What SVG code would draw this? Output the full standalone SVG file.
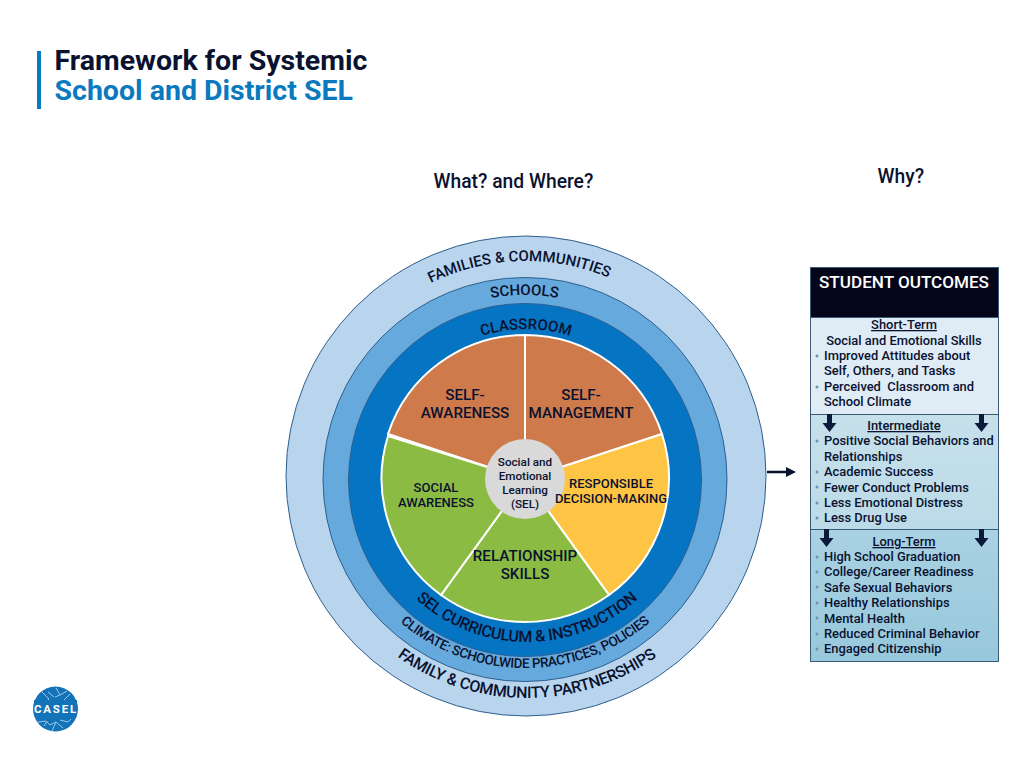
<svg xmlns="http://www.w3.org/2000/svg" width="1024" height="768" viewBox="0 0 1024 768">
<style>
text{font-family:Roboto,"Liberation Sans",sans-serif;fill:#0a1230}
.ttl{font-size:28.500px;font-weight:700}
.q{font-size:19.300px;font-weight:500}
.ring{stroke:#2f5f8e;stroke-width:1}
.seg{stroke:#fff;stroke-width:2}
.c{text-anchor:middle}
.lb{font-size:15.200px;font-weight:500}
.sm{font-size:13px;font-weight:500}
.arc{font-weight:500}
.o{font-size:12.900px;font-weight:500;fill:#0b1c3c}
.h{text-decoration:underline}
.dot{fill:#6f93ad}
.bd{stroke:#3b5a75;stroke-width:1}
.dn{stroke:#0a1a3a;stroke-width:5;fill:none;marker-end:url(#hd)}
</style>
<defs>
<linearGradient id="g3" x1="0" y1="0" x2="0" y2="1"><stop offset="0" stop-color="#a9d2e3"/><stop offset="1" stop-color="#98c8dc"/></linearGradient>
<linearGradient id="g2" x1="0" y1="0" x2="0" y2="1"><stop offset="0" stop-color="#c6e0ea"/><stop offset="1" stop-color="#bcdbe8"/></linearGradient>
<marker id="hd" markerUnits="userSpaceOnUse" markerWidth="12" markerHeight="16" refX="1" refY="8" orient="auto"><path d="M0 1L9 8L0 15Z" fill="#0a1a3a"/></marker>
<marker id="hr" markerUnits="userSpaceOnUse" markerWidth="12" markerHeight="12" refX="2" refY="6" orient="auto"><path d="M0 1L10 6L0 11Z" fill="#0a1230"/></marker>
<path id="p1" d="M405 298A215 215 0 0 1 635 291"/>
<path id="p2" d="M371 380A181 181 0 0 1 678 380"/>
<path id="p3" d="M398 401A150 150 0 0 1 654 401"/>
<path id="p4" d="M363 478A164 164 0 0 0 691 478"/>
<path id="p5" d="M332 475A193 193 0 0 0 718 475"/>
<path id="p6" d="M303 474A224 224 0 0 0 751 474"/>
</defs>
<g id="title">
<rect x="37" y="51" width="4" height="58" fill="#0a7abf"/>
<text class="ttl" x="54.500" y="69.500">Framework for Systemic</text>
<text class="ttl" x="54.500" y="99.500" style="fill:#0a7abf">School and District SEL</text>
</g>
<text class="q" x="433.500" y="187.500">What? and Where?</text>
<text class="q" x="877.500" y="182.500">Why?</text>
<g id="rings">
<circle class="ring" cx="526" cy="476" r="240" fill="#b9d5ee"/>
<circle class="ring" cx="525" cy="479.500" r="202" fill="#66a9dc"/>
<circle class="ring" cx="525" cy="480" r="176.500" fill="#0574c2"/>
</g>
<g id="sectors">
<path id="self-awareness" class="seg" fill="#cf7a4b" d="M525 479L525 335A144 144 0 0 0 388 434Z"/>
<path id="self-management" class="seg" fill="#cf7a4b" d="M525 479L525 335A144 144 0 0 1 662 434Z"/>
<path id="responsible" class="seg" fill="#fec544" d="M525 479L662 434A144 144 0 0 1 609 595Z"/>
<path id="relationship" class="seg" fill="#8bbb42" d="M525 479L609 595A144 144 0 0 1 441 595Z"/>
<path id="social" class="seg" fill="#8bbb42" d="M525 479L441 595A144 144 0 0 1 388 436Z"/>
<circle id="sel-hub" cx="525" cy="479" r="40" fill="#d9d9d9"/>
</g>
<g id="sector-labels">
<g class="lb c"><text x="465" y="400">SELF-</text><text x="465" y="418">AWARENESS</text></g>
<g class="lb c"><text x="581" y="400">SELF-</text><text x="581" y="418">MANAGEMENT</text></g>
<g class="sm c"><text x="436" y="492">SOCIAL</text><text x="436" y="507">AWARENESS</text></g>
<g class="sm c"><text x="611" y="488">RESPONSIBLE</text><text x="611" y="503">DECISION-MAKING</text></g>
<g class="lb c"><text x="525" y="561">RELATIONSHIP</text><text x="525" y="579">SKILLS</text></g>
<g class="c" style="font-size:11.700px;font-weight:500"><text x="525" y="466">Social and</text><text x="525" y="480">Emotional</text><text x="525" y="494">Learning</text><text x="525" y="508">(SEL)</text></g>
</g>
<g id="ring-labels" class="arc c">
<text style="font-size:15px"><textPath href="#p1" startOffset="50%">FAMILIES &amp; COMMUNITIES</textPath></text>
<text style="font-size:15px"><textPath href="#p2" startOffset="50%">SCHOOLS</textPath></text>
<text style="font-size:15px"><textPath href="#p3" startOffset="50%">CLASSROOM</textPath></text>
<text style="font-size:16px;letter-spacing:-.3px"><textPath href="#p4" startOffset="50%">SEL CURRICULUM &amp; INSTRUCTION</textPath></text>
<text style="font-size:13.500px;letter-spacing:-.36px"><textPath href="#p5" startOffset="50%">CLIMATE: SCHOOLWIDE PRACTICES, POLICIES</textPath></text>
<text style="font-size:16px;letter-spacing:-.28px"><textPath href="#p6" startOffset="50%">FAMILY &amp; COMMUNITY PARTNERSHIPS</textPath></text>
</g>
<g id="student-outcomes">
<rect class="bd" x="810.500" y="267.500" width="188" height="50" fill="#05051a"/>
<rect class="bd" x="810.500" y="317.500" width="188" height="97" fill="#dfebf5"/>
<rect class="bd" x="810.500" y="414.500" width="188" height="115" fill="url(#g2)"/>
<rect class="bd" x="810.500" y="529.500" width="188" height="132" fill="url(#g3)"/>
<text x="904" y="288" class="c" style="font-size:17.100px;font-weight:500;fill:#fff">STUDENT OUTCOMES</text>
<g class="o">
<text x="904" y="329" class="c h">Short-Term</text>
<text x="904" y="344.500" class="c">Social and Emotional Skills</text>
<text x="824" y="360">Improved Attitudes about</text>
<text x="824" y="375">Self, Others, and Tasks</text>
<text x="824" y="391" xml:space="preserve">Perceived  Classroom and</text>
<text x="824" y="406">School Climate</text>
<text x="904" y="430" class="c h">Intermediate</text>
<text x="824" y="445">Positive Social Behaviors and</text>
<text x="824" y="461">Relationships</text>
<text x="824" y="476">Academic Success</text>
<text x="824" y="491.500">Fewer Conduct Problems</text>
<text x="824" y="507">Less Emotional Distress</text>
<text x="824" y="522">Less Drug Use</text>
<text x="904" y="546" class="c h">Long-Term</text>
<text x="824" y="561">High School Graduation</text>
<text x="824" y="576">College/Career Readiness</text>
<text x="824" y="592">Safe Sexual Behaviors</text>
<text x="824" y="607">Healthy Relationships</text>
<text x="824" y="622.500">Mental Health</text>
<text x="824" y="638">Reduced Criminal Behavior</text>
<text x="824" y="653">Engaged Citizenship</text>
</g>
<g class="dot">
<circle cx="817" cy="356" r="1.500"/><circle cx="817" cy="387" r="1.500"/>
<circle cx="817" cy="441" r="1.500"/><circle cx="817" cy="472" r="1.500"/><circle cx="817" cy="487" r="1.500"/><circle cx="817" cy="503" r="1.500"/><circle cx="817" cy="518" r="1.500"/>
<circle cx="817" cy="557" r="1.500"/><circle cx="817" cy="572" r="1.500"/><circle cx="817" cy="587" r="1.500"/><circle cx="817" cy="603" r="1.500"/><circle cx="817" cy="618" r="1.500"/><circle cx="817" cy="634" r="1.500"/><circle cx="817" cy="649" r="1.500"/>
</g>
</g>
<g id="connectors">
<line x1="767" y1="472" x2="788" y2="472" stroke="#0a1230" stroke-width="2.500" marker-end="url(#hr)"/>
<line class="dn" x1="829.500" y1="414" x2="829.500" y2="424"/>
<line class="dn" x1="981.500" y1="414" x2="981.500" y2="424"/>
<line class="dn" x1="826.500" y1="529" x2="826.500" y2="539"/>
<line class="dn" x1="981.500" y1="529" x2="981.500" y2="539"/>
</g>
<g id="casel-logo">
<circle cx="55.500" cy="709" r="22.500" fill="#1273b8"/>
<g fill="none" stroke="#9fc9e8" stroke-width="1">
<path d="M42 692L49 699L45 702M56 688L60 695L67 691M70 694L64 700M55 697L60 695M38 722L46 721L50 725L56 722M60 720L68 722L71 719M52 731L56 722L63 728M48 692L54 697M44 726L47 721"/>
</g>
<rect x="34" y="700" width="43" height="16" fill="#1273b8"/>
<text x="56" y="713" class="c" style="font-size:11.500px;font-weight:700;fill:#fff;letter-spacing:1.800px">CASEL</text>
</g>
</svg>
